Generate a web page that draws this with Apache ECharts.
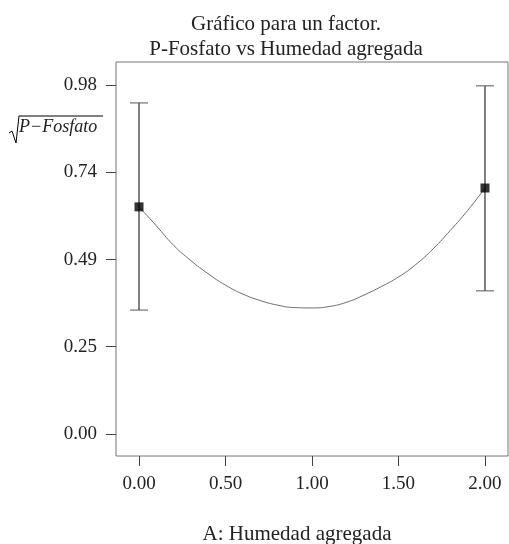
<!DOCTYPE html>
<html>
<head>
<meta charset="utf-8">
<script src="https://cdn.jsdelivr.net/npm/echarts@6/dist/echarts.min.js"></script>
<style>
html, body { margin: 0; padding: 0; background: #fff; }
#chart { width: 509px; height: 544px; }
</style>
</head>
<body>
<div id="chart"></div>
<script>
// ticks
const xTicks = [0, 0.5, 1, 1.5, 2];
const xTickLabels = ['0.00', '0.50', '1.00', '1.50', '2.00'];
const yTicks = [0, 0.245, 0.49, 0.735, 0.98];
const yTickLabels = ['0.00', '0.25', '0.49', '0.74', '0.98'];

// medias con intervalos
const levels = [0, 2];
const means = [0.638, 0.691];
const lows = [0.348, 0.402];
const highs = [0.930, 0.978];

// curva del modelo
const curveX = [0, 0.1, 0.2, 0.3, 0.4, 0.5, 0.6, 0.7, 0.8, 0.9, 1.0, 1.1, 1.2, 1.3, 1.4, 1.5, 1.6, 1.7, 1.8, 1.9, 2.0];
const curveY = [0.638, 0.585, 0.530, 0.487, 0.450, 0.418, 0.393, 0.375, 0.362, 0.355, 0.354, 0.358, 0.370, 0.390, 0.414, 0.441, 0.476, 0.520, 0.572, 0.628, 0.691];

const serif = 'Liberation Serif';

let chart = echarts.init(document.getElementById('chart'));
chart.setOption({
    animation: false,
    title: {
        text: 'Gráfico para un factor.\nP-Fosfato vs Humedad agregada',
        left: 281,
        top: 7,
        textAlign: 'center',
        textStyle: { fontFamily: serif, fontSize: 21, fontWeight: 'normal', color: '#222', lineHeight: 25 }
    },
    grid: {
        left: 116, top: 62, right: 1, bottom: 88,
        outerBoundsMode: 'none',
        show: true, borderColor: '#777', borderWidth: 1
    },
    xAxis: {
        type: 'value',
        min: -0.133,
        max: 2.133,
        name: 'A: Humedad agregada',
        nameLocation: 'middle',
        nameGap: 68,
        nameTextStyle: { fontFamily: serif, fontSize: 21, color: '#222', padding: [0, 30, 0, 0] },
        axisLine: { show: false, onZero: false },
        splitLine: { show: false },
        axisTick: { show: true, customValues: xTicks, length: 10, lineStyle: { color: '#444' } },
        axisLabel: {
            customValues: xTicks,
            margin: 19,
            fontFamily: serif, fontSize: 19, color: '#222',
            formatter: v => xTickLabels[xTicks.indexOf(v)]
        }
    },
    yAxis: {
        type: 'value',
        min: -0.062,
        max: 1.045,
        axisLine: { show: false, onZero: false },
        splitLine: { show: false },
        axisTick: { show: true, customValues: yTicks, length: 10, lineStyle: { color: '#444' } },
        axisLabel: {
            customValues: yTicks,
            margin: 19,
            fontFamily: serif, fontSize: 19, color: '#222',
            formatter: v => yTickLabels[yTicks.indexOf(v)]
        }
    },
    graphic: [
        // etiqueta del eje Y: raiz de P-Fosfato
        {
            type: 'polyline',
            shape: { points: [[9, 133], [12, 131], [16, 143], [19, 116], [103, 116]] },
            style: { stroke: '#000', lineWidth: 1, fill: null }
        },
        {
            type: 'text',
            left: 19, top: 118,
            style: { text: 'P−Fosfato', font: 'italic 18px "Liberation Serif"', fill: '#222' }
        }
    ],
    series: [
        {
            type: 'line',
            data: curveX.map((x, i) => [x, curveY[i]]),
            smooth: true,
            showSymbol: false,
            lineStyle: { color: '#6a6a6a', width: 1 },
            z: 2
        },
        {
            type: 'custom',
            data: levels.map((x, i) => [x, lows[i], highs[i]]),
            renderItem: (params, api) => {
                let top = api.coord([api.value(0), api.value(2)]);
                let bot = api.coord([api.value(0), api.value(1)]);
                let w = 9;
                let cap = { stroke: '#555', lineWidth: 1 };
                return {
                    type: 'group',
                    children: [
                        { type: 'line', shape: { x1: top[0], y1: top[1], x2: bot[0], y2: bot[1] }, style: { stroke: '#000', lineWidth: 1 } },
                        { type: 'line', shape: { x1: top[0] - w, y1: top[1], x2: top[0] + w, y2: top[1] }, style: cap },
                        { type: 'line', shape: { x1: bot[0] - w, y1: bot[1], x2: bot[0] + w, y2: bot[1] }, style: cap }
                    ]
                };
            },
            z: 3
        },
        {
            type: 'scatter',
            data: levels.map((x, i) => [x, means[i]]),
            symbol: 'rect',
            symbolSize: 9,
            itemStyle: { color: '#000' },
            z: 4
        }
    ]
});
</script>
</body>
</html>
